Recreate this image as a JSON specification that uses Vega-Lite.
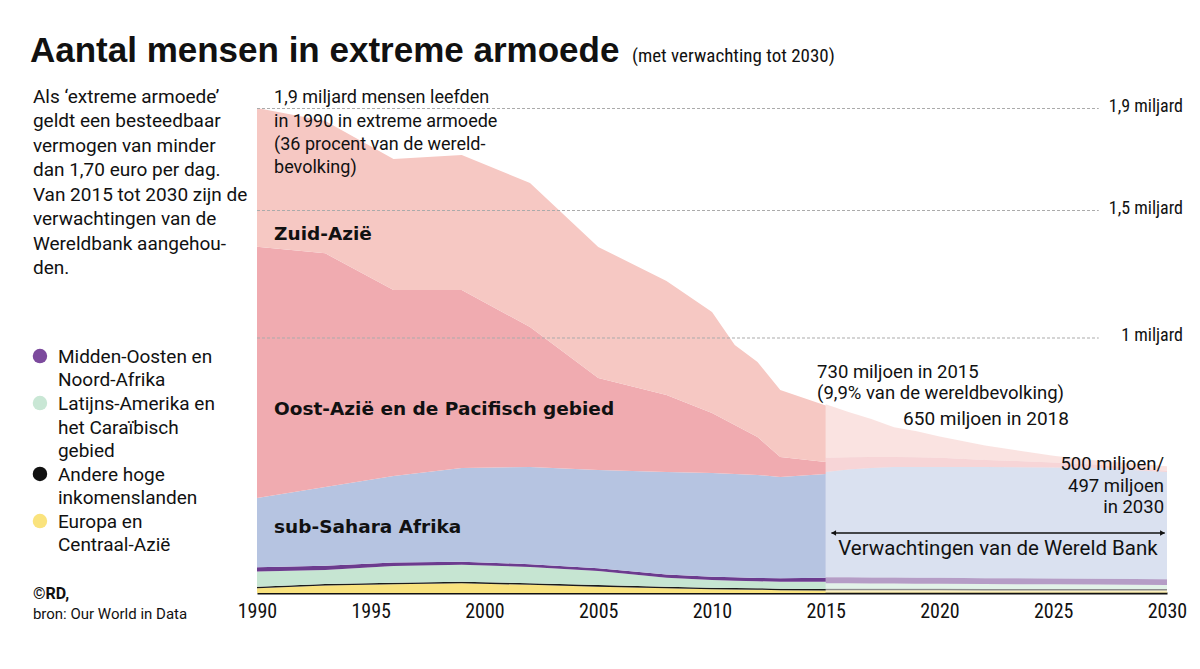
{
  "$schema": "https://vega.github.io/schema/vega-lite/v6.json",
  "width": 910,
  "height": 510,
  "autosize": {"type": "none"},
  "padding": {"left": 257, "top": 83, "right": 33, "bottom": 76},
  "background": "#ffffff",
  "config": {"view": {"stroke": null}},
  "data": {"values": [{}]},
  "datasets": {
    "armoede": [
      {"jaar": 1990, "periode": "historisch", "Zuid-Azië": 0.544, "Oost-Azië en de Pacifisch gebied": 0.985, "sub-Sahara Afrika": 0.272, "Midden-Oosten en Noord-Afrika": 0.017, "Latijns-Amerika en het Caraïbisch gebied": 0.059, "Andere hoge inkomenslanden": 0.006, "Europa en Centraal-Azië": 0.019},
      {"jaar": 1993, "periode": "historisch", "Zuid-Azië": 0.519, "Oost-Azië en de Pacifisch gebied": 0.916, "sub-Sahara Afrika": 0.309, "Midden-Oosten en Noord-Afrika": 0.017, "Latijns-Amerika en het Caraïbisch gebied": 0.055, "Andere hoge inkomenslanden": 0.006, "Europa en Centraal-Azië": 0.029},
      {"jaar": 1996, "periode": "historisch", "Zuid-Azië": 0.514, "Oost-Azië en de Pacifisch gebied": 0.729, "sub-Sahara Afrika": 0.339, "Midden-Oosten en Noord-Afrika": 0.014, "Latijns-Amerika en het Caraïbisch gebied": 0.066, "Andere hoge inkomenslanden": 0.006, "Europa en Centraal-Azië": 0.034},
      {"jaar": 1999, "periode": "historisch", "Zuid-Azië": 0.530, "Oost-Azië en de Pacifisch gebied": 0.698, "sub-Sahara Afrika": 0.367, "Midden-Oosten en Noord-Afrika": 0.012, "Latijns-Amerika en het Caraïbisch gebied": 0.067, "Andere hoge inkomenslanden": 0.006, "Europa en Centraal-Azië": 0.038},
      {"jaar": 2002, "periode": "historisch", "Zuid-Azië": 0.565, "Oost-Azië en de Pacifisch gebied": 0.549, "sub-Sahara Afrika": 0.381, "Midden-Oosten en Noord-Afrika": 0.011, "Latijns-Amerika en het Caraïbisch gebied": 0.064, "Andere hoge inkomenslanden": 0.006, "Europa en Centraal-Azië": 0.032},
      {"jaar": 2005, "periode": "historisch", "Zuid-Azië": 0.514, "Oost-Azië en de Pacifisch gebied": 0.361, "sub-Sahara Afrika": 0.385, "Midden-Oosten en Noord-Afrika": 0.011, "Latijns-Amerika en het Caraïbisch gebied": 0.055, "Andere hoge inkomenslanden": 0.006, "Europa en Centraal-Azië": 0.025},
      {"jaar": 2008, "periode": "historisch", "Zuid-Azië": 0.448, "Oost-Azië en de Pacifisch gebied": 0.301, "sub-Sahara Afrika": 0.402, "Midden-Oosten en Noord-Afrika": 0.013, "Latijns-Amerika en het Caraïbisch gebied": 0.035, "Andere hoge inkomenslanden": 0.006, "Europa en Centraal-Azië": 0.019},
      {"jaar": 2010, "periode": "historisch", "Zuid-Azië": 0.396, "Oost-Azië en de Pacifisch gebied": 0.235, "sub-Sahara Afrika": 0.407, "Midden-Oosten en Noord-Afrika": 0.013, "Latijns-Amerika en het Caraïbisch gebied": 0.030, "Andere hoge inkomenslanden": 0.006, "Europa en Centraal-Azië": 0.015},
      {"jaar": 2011, "periode": "historisch", "Zuid-Azië": 0.314, "Oost-Azië en de Pacifisch gebied": 0.192, "sub-Sahara Afrika": 0.405, "Midden-Oosten en Noord-Afrika": 0.014, "Latijns-Amerika en het Caraïbisch gebied": 0.028, "Andere hoge inkomenslanden": 0.006, "Europa en Centraal-Azië": 0.014},
      {"jaar": 2012, "periode": "historisch", "Zuid-Azië": 0.294, "Oost-Azië en de Pacifisch gebied": 0.149, "sub-Sahara Afrika": 0.404, "Midden-Oosten en Noord-Afrika": 0.013, "Latijns-Amerika en het Caraïbisch gebied": 0.027, "Andere hoge inkomenslanden": 0.006, "Europa en Centraal-Azië": 0.013},
      {"jaar": 2013, "periode": "historisch", "Zuid-Azië": 0.263, "Oost-Azië en de Pacifisch gebied": 0.078, "sub-Sahara Afrika": 0.397, "Midden-Oosten en Noord-Afrika": 0.014, "Latijns-Amerika en het Caraïbisch gebied": 0.027, "Andere hoge inkomenslanden": 0.006, "Europa en Centraal-Azië": 0.011},
      {"jaar": 2015, "periode": "historisch", "Zuid-Azië": 0.221, "Oost-Azië en de Pacifisch gebied": 0.047, "sub-Sahara Afrika": 0.407, "Midden-Oosten en Noord-Afrika": 0.016, "Latijns-Amerika en het Caraïbisch gebied": 0.028, "Andere hoge inkomenslanden": 0.006, "Europa en Centraal-Azië": 0.010},
      {"jaar": 2015, "periode": "verwachting", "Zuid-Azië": 0.210, "Oost-Azië en de Pacifisch gebied": 0.055, "sub-Sahara Afrika": 0.413, "Midden-Oosten en Noord-Afrika": 0.024, "Latijns-Amerika en het Caraïbisch gebied": 0.021, "Andere hoge inkomenslanden": 0.006, "Europa en Centraal-Azië": 0.011},
      {"jaar": 2016, "periode": "verwachting", "Zuid-Azië": 0.178, "Oost-Azië en de Pacifisch gebied": 0.048, "sub-Sahara Afrika": 0.422, "Midden-Oosten en Noord-Afrika": 0.024, "Latijns-Amerika en het Caraïbisch gebied": 0.021, "Andere hoge inkomenslanden": 0.006, "Europa en Centraal-Azië": 0.011},
      {"jaar": 2017, "periode": "verwachting", "Zuid-Azië": 0.149, "Oost-Azië en de Pacifisch gebied": 0.043, "sub-Sahara Afrika": 0.429, "Midden-Oosten en Noord-Afrika": 0.024, "Latijns-Amerika en het Caraïbisch gebied": 0.020, "Andere hoge inkomenslanden": 0.006, "Europa en Centraal-Azië": 0.011},
      {"jaar": 2018, "periode": "verwachting", "Zuid-Azië": 0.117, "Oost-Azië en de Pacifisch gebied": 0.039, "sub-Sahara Afrika": 0.433, "Midden-Oosten en Noord-Afrika": 0.024, "Latijns-Amerika en het Caraïbisch gebied": 0.020, "Andere hoge inkomenslanden": 0.006, "Europa en Centraal-Azië": 0.011},
      {"jaar": 2019, "periode": "verwachting", "Zuid-Azië": 0.102, "Oost-Azië en de Pacifisch gebied": 0.038, "sub-Sahara Afrika": 0.434, "Midden-Oosten en Noord-Afrika": 0.024, "Latijns-Amerika en het Caraïbisch gebied": 0.019, "Andere hoge inkomenslanden": 0.006, "Europa en Centraal-Azië": 0.011},
      {"jaar": 2020, "periode": "verwachting", "Zuid-Azië": 0.084, "Oost-Azië en de Pacifisch gebied": 0.036, "sub-Sahara Afrika": 0.434, "Midden-Oosten en Noord-Afrika": 0.024, "Latijns-Amerika en het Caraïbisch gebied": 0.019, "Andere hoge inkomenslanden": 0.006, "Europa en Centraal-Azië": 0.011},
      {"jaar": 2022, "periode": "verwachting", "Zuid-Azië": 0.056, "Oost-Azië en de Pacifisch gebied": 0.028, "sub-Sahara Afrika": 0.436, "Midden-Oosten en Noord-Afrika": 0.023, "Latijns-Amerika en het Caraïbisch gebied": 0.019, "Andere hoge inkomenslanden": 0.006, "Europa en Centraal-Azië": 0.010},
      {"jaar": 2025, "periode": "verwachting", "Zuid-Azië": 0.026, "Oost-Azië en de Pacifisch gebied": 0.020, "sub-Sahara Afrika": 0.435, "Midden-Oosten en Noord-Afrika": 0.023, "Latijns-Amerika en het Caraïbisch gebied": 0.018, "Andere hoge inkomenslanden": 0.006, "Europa en Centraal-Azië": 0.010},
      {"jaar": 2027, "periode": "verwachting", "Zuid-Azië": 0.016, "Oost-Azië en de Pacifisch gebied": 0.013, "sub-Sahara Afrika": 0.434, "Midden-Oosten en Noord-Afrika": 0.023, "Latijns-Amerika en het Caraïbisch gebied": 0.017, "Andere hoge inkomenslanden": 0.006, "Europa en Centraal-Azië": 0.010},
      {"jaar": 2030, "periode": "verwachting", "Zuid-Azië": 0.018, "Oost-Azië en de Pacifisch gebied": 0.004, "sub-Sahara Afrika": 0.421, "Midden-Oosten en Noord-Afrika": 0.023, "Latijns-Amerika en het Caraïbisch gebied": 0.015, "Andere hoge inkomenslanden": 0.006, "Europa en Centraal-Azië": 0.010}
    ],
    "regios": [
      {"regio": "Europa en Centraal-Azië", "volgorde": 1},
      {"regio": "Andere hoge inkomenslanden", "volgorde": 2},
      {"regio": "Latijns-Amerika en het Caraïbisch gebied", "volgorde": 3},
      {"regio": "Midden-Oosten en Noord-Afrika", "volgorde": 4},
      {"regio": "sub-Sahara Afrika", "volgorde": 5},
      {"regio": "Oost-Azië en de Pacifisch gebied", "volgorde": 6},
      {"regio": "Zuid-Azië", "volgorde": 7}
    ],
    "raster": [
      {"waarde": 1.9, "label": "1,9 miljard"},
      {"waarde": 1.5, "label": "1,5 miljard"},
      {"waarde": 1.0, "label": "1 miljard"}
    ]
  },
  "layer": [
    {
      "data": {"name": "armoede"},
      "transform": [
        {"filter": {"field": "periode", "equal": "historisch"}},
        {"fold": ["Europa en Centraal-Azië", "Andere hoge inkomenslanden", "Latijns-Amerika en het Caraïbisch gebied", "Midden-Oosten en Noord-Afrika", "sub-Sahara Afrika", "Oost-Azië en de Pacifisch gebied", "Zuid-Azië"], "as": ["regio", "mld"]},
        {"lookup": "regio", "from": {"data": {"name": "regios"}, "key": "regio", "fields": ["volgorde"]}}
      ],
      "mark": {"type": "area", "interpolate": "linear"},
      "encoding": {
        "x": {"field": "jaar", "type": "quantitative", "scale": {"domain": [1990, 2030], "nice": false, "zero": false},
          "axis": {"title": null, "values": [1990, 1995, 2000, 2005, 2010, 2015, 2020, 2025, 2030], "format": "d", "ticks": false, "grid": false, "domainColor": "#111111", "domainWidth": 2, "labelFont": "Liberation Sans Narrow, Roboto Condensed, DejaVu Sans Condensed, Roboto", "labelFontSize": 20, "labelColor": "#111111", "labelPadding": 8, "labelFlush": false, "labelOverlap": false}},
        "y": {"field": "mld", "type": "quantitative", "stack": "zero", "scale": {"domain": [0, 2], "nice": false, "zero": true}, "axis": null},
        "color": {"field": "regio", "type": "nominal", "legend": null,
          "scale": {"domain": ["Europa en Centraal-Azië", "Andere hoge inkomenslanden", "Latijns-Amerika en het Caraïbisch gebied", "Midden-Oosten en Noord-Afrika", "sub-Sahara Afrika", "Oost-Azië en de Pacifisch gebied", "Zuid-Azië"],
                    "range": ["#f8e27e", "#1a1a1a", "#c6e5d2", "#6c3b8e", "#b6c4e1", "#f0abb0", "#f6c8c3"]}},
        "order": {"field": "volgorde", "type": "quantitative", "sort": "ascending"}
      }
    },
    {
      "data": {"name": "armoede"},
      "transform": [
        {"filter": {"field": "periode", "equal": "verwachting"}},
        {"fold": ["Europa en Centraal-Azië", "Andere hoge inkomenslanden", "Latijns-Amerika en het Caraïbisch gebied", "Midden-Oosten en Noord-Afrika", "sub-Sahara Afrika", "Oost-Azië en de Pacifisch gebied", "Zuid-Azië"], "as": ["regio", "mld"]},
        {"lookup": "regio", "from": {"data": {"name": "regios"}, "key": "regio", "fields": ["volgorde"]}}
      ],
      "mark": {"type": "area", "interpolate": "linear", "opacity": 0.5},
      "encoding": {
        "x": {"field": "jaar", "type": "quantitative"},
        "y": {"field": "mld", "type": "quantitative", "stack": "zero"},
        "color": {"field": "regio", "type": "nominal", "legend": null},
        "order": {"field": "volgorde", "type": "quantitative", "sort": "ascending"}
      }
    },
    {
      "data": {"name": "raster"},
      "mark": {"type": "rule", "color": "#ababab", "strokeDash": [3, 2], "strokeWidth": 1},
      "encoding": {
        "x": {"datum": 1990, "type": "quantitative"},
        "x2": {"datum": 2027},
        "y": {"field": "waarde", "type": "quantitative"}
      }
    },
    {
      "data": {"name": "raster"},
      "mark": {"type": "text", "align": "right", "baseline": "middle", "dy": -2, "font": "Liberation Sans Narrow, Roboto Condensed, DejaVu Sans Condensed, Roboto", "fontSize": 18, "color": "#111111"},
      "encoding": {
        "x": {"datum": 2030.7, "type": "quantitative"},
        "y": {"field": "waarde", "type": "quantitative"},
        "text": {"field": "label"}
      }
    },
    {
      "mark": {"type": "rule", "color": "#111111", "strokeWidth": 1.5},
      "encoding": {
        "x": {"datum": 2015.25, "type": "quantitative"},
        "x2": {"datum": 2029.9},
        "y": {"datum": 0.235, "type": "quantitative"}
      }
    },
    {
      "mark": {"type": "point", "shape": "triangle-left", "filled": true, "color": "#111111", "size": 30, "opacity": 1},
      "encoding": {
        "x": {"datum": 2015.35, "type": "quantitative"},
        "y": {"datum": 0.235, "type": "quantitative"}
      }
    },
    {
      "mark": {"type": "point", "shape": "triangle-right", "filled": true, "color": "#111111", "size": 30, "opacity": 1},
      "encoding": {
        "x": {"datum": 2029.8, "type": "quantitative"},
        "y": {"datum": 0.235, "type": "quantitative"}
      }
    },
    {
      "mark": {"type": "text", "align": "center", "baseline": "middle", "font": "Roboto", "fontSize": 20.5, "color": "#111111"},
      "encoding": {
        "x": {"datum": 2022.57, "type": "quantitative"},
        "y": {"datum": 0.1725, "type": "quantitative"},
        "text": {"value": "Verwachtingen van de Wereld Bank"}
      }
    },
    {
      "mark": {"type": "text", "align": "left", "baseline": "middle", "font": "DejaVu Sans", "fontWeight": "bold", "fontSize": 18.5, "color": "#111111"},
      "encoding": {
        "x": {"datum": 1990.75, "type": "quantitative"},
        "y": {"datum": 1.408, "type": "quantitative"},
        "text": {"value": "Zuid-Azië"}
      }
    },
    {
      "mark": {"type": "text", "align": "left", "baseline": "middle", "font": "DejaVu Sans", "fontWeight": "bold", "fontSize": 18.5, "color": "#111111"},
      "encoding": {
        "x": {"datum": 1990.75, "type": "quantitative"},
        "y": {"datum": 0.722, "type": "quantitative"},
        "text": {"value": "Oost-Azië en de Pacifisch gebied"}
      }
    },
    {
      "mark": {"type": "text", "align": "left", "baseline": "middle", "font": "DejaVu Sans", "fontWeight": "bold", "fontSize": 18.5, "color": "#111111"},
      "encoding": {
        "x": {"datum": 1990.75, "type": "quantitative"},
        "y": {"datum": 0.259, "type": "quantitative"},
        "text": {"value": "sub-Sahara Afrika"}
      }
    },
    {
      "mark": {"type": "text", "align": "left", "baseline": "alphabetic", "font": "Roboto", "fontSize": 18, "lineHeight": 23.3, "color": "#111111"},
      "encoding": {
        "x": {"datum": 1990.75, "type": "quantitative"},
        "y": {"datum": 1.92, "type": "quantitative"},
        "text": {"value": ["1,9 miljard mensen leefden", "in 1990 in extreme armoede", "(36 procent van de wereld-", "bevolking)"]}
      }
    },
    {
      "mark": {"type": "text", "align": "left", "baseline": "alphabetic", "font": "Roboto", "fontSize": 18.5, "lineHeight": 21.8, "color": "#111111"},
      "encoding": {
        "x": {"datum": 2014.62, "type": "quantitative"},
        "y": {"datum": 0.845, "type": "quantitative"},
        "text": {"value": ["730 miljoen in 2015", "(9,9% van de wereldbevolking)"]}
      }
    },
    {
      "mark": {"type": "text", "align": "left", "baseline": "middle", "font": "Roboto", "fontSize": 19, "color": "#111111"},
      "encoding": {
        "x": {"datum": 2018.4, "type": "quantitative"},
        "y": {"datum": 0.682, "type": "quantitative"},
        "text": {"value": "650 miljoen in 2018"}
      }
    },
    {
      "mark": {"type": "text", "align": "right", "baseline": "alphabetic", "font": "Roboto", "fontSize": 18.5, "lineHeight": 21.8, "color": "#111111"},
      "encoding": {
        "x": {"datum": 2029.87, "type": "quantitative"},
        "y": {"datum": 0.4835, "type": "quantitative"},
        "text": {"value": ["500 miljoen/", "497 miljoen", "in 2030"]}
      }
    },
    {
      "mark": {"type": "text", "align": "left", "baseline": "alphabetic", "font": "Liberation Sans", "fontWeight": "bold", "fontSize": 35, "color": "#111111"},
      "encoding": {
        "x": {"datum": 1980.02, "type": "quantitative"},
        "y": {"datum": 2.082, "type": "quantitative"},
        "text": {"value": "Aantal mensen in extreme armoede"}
      }
    },
    {
      "mark": {"type": "text", "align": "left", "baseline": "alphabetic", "font": "Liberation Sans Narrow, Roboto Condensed, DejaVu Sans Condensed, Roboto", "fontSize": 19, "color": "#111111"},
      "encoding": {
        "x": {"datum": 2006.48, "type": "quantitative"},
        "y": {"datum": 2.082, "type": "quantitative"},
        "text": {"value": "(met verwachting tot 2030)"}
      }
    },
    {
      "mark": {"type": "text", "align": "left", "baseline": "alphabetic", "font": "Roboto", "fontSize": 19, "lineHeight": 24.5, "color": "#111111"},
      "encoding": {
        "x": {"datum": 1980.15, "type": "quantitative"},
        "y": {"datum": 1.922, "type": "quantitative"},
        "text": {"value": ["Als ‘extreme armoede’", "geldt een besteedbaar", "vermogen van minder", "dan 1,70 euro per dag.", "Van 2015 tot 2030 zijn de", "verwachtingen van de", "Wereldbank aangehou-", "den."]}
      }
    },
    {
      "mark": {"type": "point", "shape": "circle", "filled": true, "size": 210, "opacity": 1, "color": "#7c4a9d"},
      "encoding": {
        "x": {"datum": 1980.46, "type": "quantitative"},
        "y": {"datum": 0.929, "type": "quantitative"}
      }
    },
    {
      "mark": {"type": "point", "shape": "circle", "filled": true, "size": 210, "opacity": 1, "color": "#c9e7d5"},
      "encoding": {
        "x": {"datum": 1980.46, "type": "quantitative"},
        "y": {"datum": 0.745, "type": "quantitative"}
      }
    },
    {
      "mark": {"type": "point", "shape": "circle", "filled": true, "size": 210, "opacity": 1, "color": "#111111"},
      "encoding": {
        "x": {"datum": 1980.46, "type": "quantitative"},
        "y": {"datum": 0.467, "type": "quantitative"}
      }
    },
    {
      "mark": {"type": "point", "shape": "circle", "filled": true, "size": 210, "opacity": 1, "color": "#fae37d"},
      "encoding": {
        "x": {"datum": 1980.46, "type": "quantitative"},
        "y": {"datum": 0.282, "type": "quantitative"}
      }
    },
    {
      "mark": {"type": "text", "align": "left", "baseline": "alphabetic", "font": "Roboto", "fontSize": 19, "lineHeight": 23.6, "color": "#111111"},
      "encoding": {
        "x": {"datum": 1981.25, "type": "quantitative"},
        "y": {"datum": 0.903, "type": "quantitative"},
        "text": {"value": ["Midden-Oosten en", "Noord-Afrika"]}
      }
    },
    {
      "mark": {"type": "text", "align": "left", "baseline": "alphabetic", "font": "Roboto", "fontSize": 19, "lineHeight": 23.6, "color": "#111111"},
      "encoding": {
        "x": {"datum": 1981.25, "type": "quantitative"},
        "y": {"datum": 0.718, "type": "quantitative"},
        "text": {"value": ["Latijns-Amerika en", "het Caraïbisch", "gebied"]}
      }
    },
    {
      "mark": {"type": "text", "align": "left", "baseline": "alphabetic", "font": "Roboto", "fontSize": 19, "lineHeight": 23.6, "color": "#111111"},
      "encoding": {
        "x": {"datum": 1981.25, "type": "quantitative"},
        "y": {"datum": 0.44, "type": "quantitative"},
        "text": {"value": ["Andere hoge", "inkomenslanden"]}
      }
    },
    {
      "mark": {"type": "text", "align": "left", "baseline": "alphabetic", "font": "Roboto", "fontSize": 19, "lineHeight": 23.6, "color": "#111111"},
      "encoding": {
        "x": {"datum": 1981.25, "type": "quantitative"},
        "y": {"datum": 0.256, "type": "quantitative"},
        "text": {"value": ["Europa en", "Centraal-Azië"]}
      }
    },
    {
      "mark": {"type": "text", "align": "left", "baseline": "middle", "font": "Roboto", "fontWeight": "bold", "fontSize": 16, "color": "#111111"},
      "encoding": {
        "x": {"datum": 1980.15, "type": "quantitative"},
        "y": {"datum": -0.004, "type": "quantitative"},
        "text": {"value": "©RD,"}
      }
    },
    {
      "mark": {"type": "text", "align": "left", "baseline": "middle", "font": "Roboto", "fontSize": 15, "color": "#111111"},
      "encoding": {
        "x": {"datum": 1980.15, "type": "quantitative"},
        "y": {"datum": -0.082, "type": "quantitative"},
        "text": {"value": "bron: Our World in Data"}
      }
    }
  ]
}
